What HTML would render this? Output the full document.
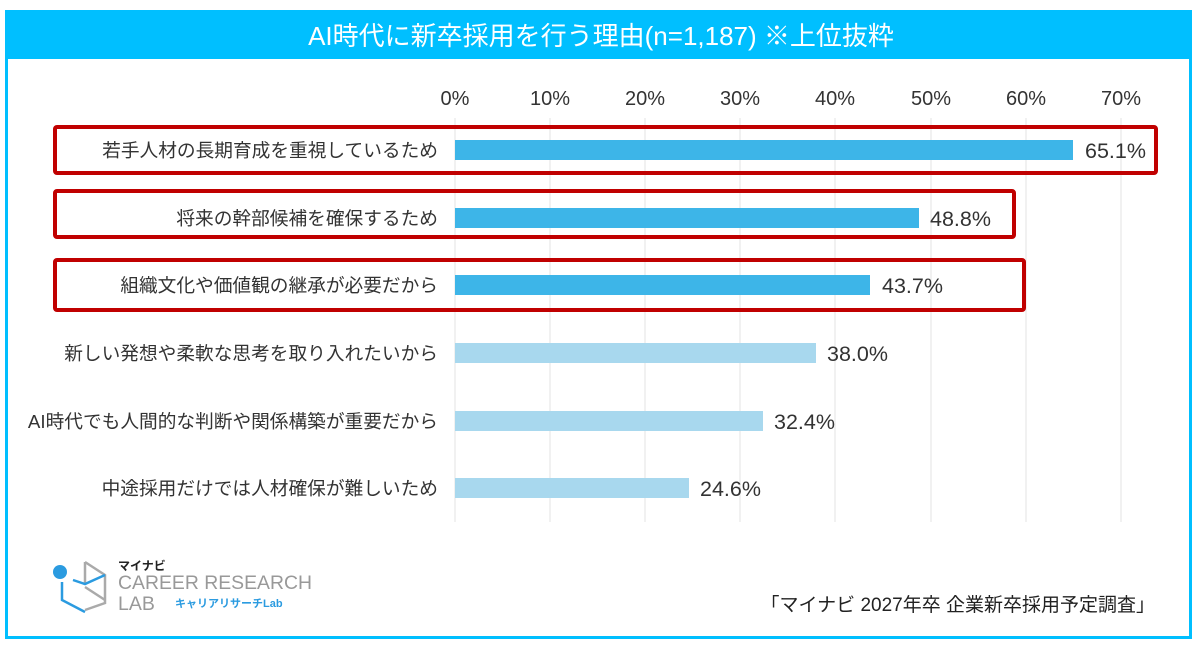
<!DOCTYPE html>
<html><head><meta charset="utf-8"><style>
html,body{margin:0;padding:0;background:#fff;}
svg{display:block;}
</style></head><body>
<svg width="1200" height="645" viewBox="0 0 1200 645" xmlns="http://www.w3.org/2000/svg" font-family="'Liberation Sans','Noto Sans CJK JP',sans-serif">
<rect x="0" y="0" width="1200" height="645" fill="#fff"/>
<rect x="6.5" y="11.5" width="1184" height="626" fill="none" stroke="#00bfff" stroke-width="3"/>
<rect x="5" y="10" width="1187" height="49" fill="#00bfff"/>
<text x="601" y="45" text-anchor="middle" fill="#fff" font-size="26">AI時代に新卒採用を行う理由(n=1,187) ※上位抜粋</text>
<g stroke="#e3e3e3" stroke-width="1">
<line x1="455" y1="118" x2="455" y2="522"/><line x1="550" y1="118" x2="550" y2="522"/><line x1="645" y1="118" x2="645" y2="522"/><line x1="740" y1="118" x2="740" y2="522"/><line x1="835" y1="118" x2="835" y2="522"/><line x1="931" y1="118" x2="931" y2="522"/><line x1="1026" y1="118" x2="1026" y2="522"/><line x1="1121" y1="118" x2="1121" y2="522"/>
</g>
<g font-size="20" fill="#333" text-anchor="middle">
<text x="455" y="105">0%</text><text x="550" y="105">10%</text><text x="645" y="105">20%</text><text x="740" y="105">30%</text><text x="835" y="105">40%</text><text x="931" y="105">50%</text><text x="1026" y="105">60%</text><text x="1121" y="105">70%</text>
</g>
<g fill="#3db5e8">
<rect x="455" y="140" width="618" height="20"/>
<rect x="455" y="208" width="464" height="20"/>
<rect x="455" y="275" width="415" height="20"/>
</g>
<g fill="#a8d8ee">
<rect x="455" y="343" width="361" height="20"/>
<rect x="455" y="411" width="308" height="20"/>
<rect x="455" y="478" width="234" height="20"/>
</g>
<g font-size="18.7" fill="#333" text-anchor="end">
<text x="438" y="157">若手人材の長期育成を重視しているため</text>
<text x="438" y="225">将来の幹部候補を確保するため</text>
<text x="438" y="292">組織文化や価値観の継承が必要だから</text>
<text x="438" y="360">新しい発想や柔軟な思考を取り入れたいから</text>
<text x="438" y="428">AI時代でも人間的な判断や関係構築が重要だから</text>
<text x="438" y="495">中途採用だけでは人材確保が難しいため</text>
</g>
<g font-size="21.5" fill="#333">
<text x="1085" y="158">65.1%</text>
<text x="930" y="226">48.8%</text>
<text x="882" y="293">43.7%</text>
<text x="827" y="361">38.0%</text>
<text x="774" y="429">32.4%</text>
<text x="700" y="496">24.6%</text>
</g>
<g fill="none" stroke="#c00000" stroke-width="4">
<rect x="55" y="127" width="1101" height="46" rx="2"/>
<rect x="55" y="191" width="959" height="46" rx="2"/>
<rect x="55" y="260" width="969" height="50" rx="2"/>
</g>
<!-- logo -->
<g fill="none" stroke="#aaa" stroke-width="2.5">
<polyline points="85,562 105,575 105,603 85,610"/>
<polyline points="85,562 85,585"/>
<line x1="85" y1="587" x2="105" y2="600"/>
</g>
<g fill="none" stroke="#2b9be0" stroke-width="2.5">
<polyline points="62,582 62,600 85,612"/>
<polyline points="73,580 85,584 105,575"/>
</g>
<circle cx="60" cy="572" r="7" fill="#2b9be0"/>
<text x="118" y="570" font-size="12" font-weight="bold" fill="#222">マイナビ</text>
<text x="118" y="589" font-size="19.5" fill="#999" textLength="194" lengthAdjust="spacingAndGlyphs">CAREER RESEARCH</text>
<text x="118" y="610" font-size="19.5" fill="#999">LAB</text>
<text x="175" y="607" font-size="11" font-weight="bold" fill="#2b9be0">キャリアリサーチLab</text>
<text x="1155" y="611" text-anchor="end" font-size="19" fill="#222">「マイナビ 2027年卒 企業新卒採用予定調査」</text>
</svg>
</body></html>
